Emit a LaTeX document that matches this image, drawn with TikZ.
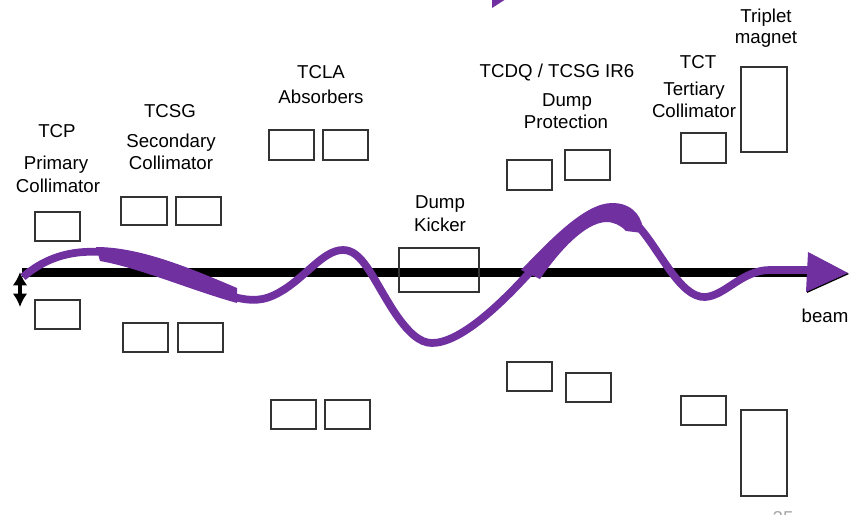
\documentclass[tikz,border=0pt]{standalone}
\usepackage{fontspec}
\setmainfont{Liberation Sans}
\usetikzlibrary{arrows.meta,fit}
\definecolor{beampurple}{HTML}{7030A0}
\begin{document}
\begin{tikzpicture}[x=0.75pt,y=-0.75pt,
  lbl/.style={font=\fontsize{14}{17}\selectfont, inner sep=0pt, anchor=base},
  box/.style={draw=black!80, line width=1.2pt, inner sep=0pt},
  thinbeam/.style={draw=beampurple, line width=5.8pt},
  dbl/.style={{Latex[length=10pt,width=11pt]}-{Latex[length=10pt,width=11pt]}, line width=2.6pt}]
\useasboundingbox (0,0) rectangle (863,514);

% labels
\node[lbl] (tcp) at (57,137) {TCP};
\node[lbl] (tcpA) at (56,169) {Primary};
\node[lbl] (tcpB) at (58,192) {Collimator};
\node[lbl] (tcsg) at (170,117) {TCSG};
\node[lbl] (tcsgA) at (171,147) {Secondary};
\node[lbl] (tcsgB) at (171,169) {Collimator};
\node[lbl] (tcla) at (321,78) {TCLA};
\node[lbl] (tclaA) at (321,103) {Absorbers};
\node[lbl] (dkA) at (440,208) {Dump};
\node[lbl] (dkB) at (440,231) {Kicker};
\node[lbl] (tcdq) at (557,77) {TCDQ / TCSG IR6};
\node[lbl] (tcdqA) at (567,106) {Dump};
\node[lbl] (tcdqB) at (566,128) {Protection};
\node[lbl] (tct) at (698,68) {TCT};
\node[lbl] (tctA) at (694,95) {Tertiary};
\node[lbl] (tctB) at (694,117) {Collimator};
\node[lbl] (trA) at (766,22) {Triplet};
\node[lbl] (trB) at (766,43) {magnet};
\node[lbl] (beam) at (825,322) {beam};
\node[lbl, anchor=north, text=black!35] (pg) at (783,511) {25};

% beam axis
\coordinate (bs) at (22,272);
\coordinate (be) at (815,272);
\draw[line width=6.75pt] (bs) -- (be);

% double arrow
\coordinate (dT) at (20,272);
\coordinate (dB) at (20,307);
\draw[dbl] (dT) -- (dB);

% boxes
\node[box, fit={(35,212) (80,241)}] (tcpU) {};
\node[box, fit={(35,300) (80,329)}] (tcpL) {};
\node[box, fit={(121,197) (167,225)}] (tcsgU1) {};
\node[box, fit={(176,197) (221,225)}] (tcsgU2) {};
\node[box, fit={(123,323) (168,352)}] (tcsgL1) {};
\node[box, fit={(178,323) (223,352)}] (tcsgL2) {};
\node[box, fit={(269,130) (314,160)}] (tclaU1) {};
\node[box, fit={(323,130) (368,160)}] (tclaU2) {};
\node[box, fit={(271,400) (316,429)}] (tclaL1) {};
\node[box, fit={(325,400) (370,429)}] (tclaL2) {};
\node[box, fit={(399,248) (479,292)}] (kicker) {};
\node[box, fit={(507,160) (552,190)}] (tcdqU1) {};
\node[box, fit={(565,150) (610,180)}] (tcdqU2) {};
\node[box, fit={(507,362) (552,391)}] (tcdqL1) {};
\node[box, fit={(566,373) (611,402)}] (tcdqL2) {};
\node[box, fit={(681,133) (726,163)}] (tctU) {};
\node[box, fit={(681,396) (726,425)}] (tctL) {};
\node[box, fit={(741,67) (787,152)}] (trU) {};
\node[box, fit={(741,410) (787,496)}] (trL) {};

% purple beam trajectory
\draw[thinbeam] (23,277) .. controls (45,258) and (70,250) .. (102,252);
\fill[beampurple] (96,247) .. controls (140,247) and (190,268) .. (237,288)
  -- (237,303) .. controls (190,290) and (140,268) .. (100,261) -- cycle;
\draw[thinbeam] (234,297) .. controls (250,301) and (263,302) .. (280,292)
  .. controls (305,278) and (323,250) .. (343,250)
  .. controls (362,250) and (372,277) .. (393,310)
  .. controls (408,333) and (420,343) .. (432,343)
  .. controls (460,343) and (500,305) .. (530,272);
\fill[beampurple] (521,270) .. controls (550,240) and (585,203) .. (612,203)
  .. controls (630,203) and (640,213) .. (643,228) -- (643,233) -- (626,231)
  .. controls (620,225) and (614,222) .. (606,222)
  .. controls (585,223) and (560,250) .. (540,279) -- cycle;
\draw[thinbeam] (638,226) .. controls (660,250) and (680,298) .. (705,297)
  .. controls (725,296) and (742,270) .. (770,270) -- (812,270);
\fill[black] (809,253) -- (849,274) -- (807,293) -- cycle;
\fill[beampurple] (808,252) -- (848,273) -- (806,292) -- cycle;

% cut-off arrow at the top
\fill[beampurple] (492,-1) -- (506,-1) -- (492,8) -- cycle;
\end{tikzpicture}
\end{document}
